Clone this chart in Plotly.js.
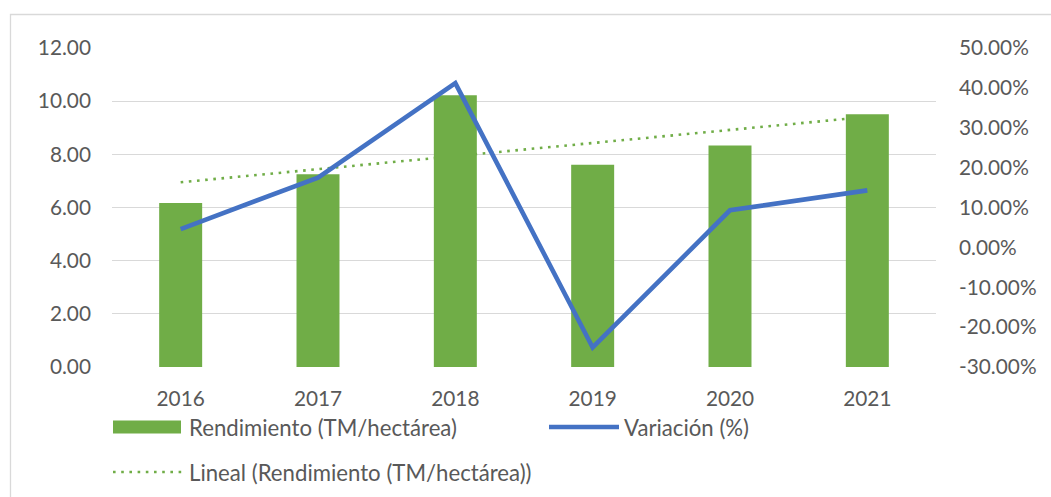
<!DOCTYPE html>
<html>
<head>
<meta charset="utf-8">
<script src="https://cdn.plot.ly/plotly-3.0.1.min.js"></script>
<style>
html,body{margin:0;padding:0;background:#fff;}
#chart{width:1051px;height:497px;}
</style>
</head>
<body>
<div id="chart"></div>
<script>
// ---- data ----
var years = ['2016', '2017', '2018', '2019', '2020', '2021'];
var rendimiento = [6.17, 7.25, 10.22, 7.61, 8.33, 9.51];      // TM/hectárea
var variacion = [4.6, 17.5, 41.2, -25.1, 9.3, 14.3];          // %
var trendYears = ['2016', '2021'];
var trendValues = [6.95, 9.41];                                 // linear trend endpoints
var leftTicks = [0, 2, 4, 6, 8, 10, 12];
var leftTickText = ['0.00', '2.00', '4.00', '6.00', '8.00', '10.00', '12.00'];
var rightTicks = [-30, -20, -10, 0, 10, 20, 30, 40, 50];
var rightTickText = ['-30.00%', '-20.00%', '-10.00%', '0.00%', '10.00%', '20.00%', '30.00%', '40.00%', '50.00%'];
var legendLabels = ['Rendimiento (TM/hectárea)', 'Variación (%)', 'Lineal (Rendimiento (TM/hectárea))'];

// ---- layout geometry ----
var W = 1051, H = 497;
var M = {l: 112, r: 115, t: 48, b: 130};
var PW = W - M.l - M.r, PH = H - M.t - M.b;
function px2x(px) { return (px - M.l) / PW; }
function py2y(py) { return (M.t + PH - py) / PH; }

var green = '#70AD47', blue = '#4472C4', txt = '#595959', grid = '#D9D9D9';
var fontFam = 'Lato, "Open Sans", sans-serif';

var traces = [
  {
    type: 'scatter', mode: 'lines', x: trendYears, y: trendValues,
    xaxis: 'x', yaxis: 'y',
    line: {color: green, width: 2.6, dash: '2.6px,5.6px'},
    name: legendLabels[2], showlegend: false, hoverinfo: 'skip'
  },
  {
    type: 'bar', x: years, y: rendimiento, xaxis: 'x', yaxis: 'y2',
    marker: {color: green, line: {width: 0}},
    name: legendLabels[0], showlegend: false
  },
  {
    type: 'scatter', mode: 'lines', x: years, y: variacion, xaxis: 'x', yaxis: 'y3',
    line: {color: blue, width: 4.6},
    name: legendLabels[1], showlegend: false
  }
];

var shapes = [
  // outer chart border (left and top visible)
  {type: 'rect', xref: 'paper', yref: 'paper',
   x0: px2x(10.5), x1: px2x(1070), y0: py2y(14.5), y1: py2y(520),
   line: {color: grid, width: 1.3}, fillcolor: 'rgba(0,0,0,0)', layer: 'below'},
  // legend symbols
  {type: 'rect', xref: 'paper', yref: 'paper',
   x0: px2x(113), x1: px2x(181), y0: py2y(420.5), y1: py2y(433.5),
   line: {width: 0}, fillcolor: green},
  {type: 'line', xref: 'paper', yref: 'paper',
   x0: px2x(549), x1: px2x(619), y0: py2y(427), y1: py2y(427),
   line: {color: blue, width: 4.6}},
  {type: 'line', xref: 'paper', yref: 'paper',
   x0: px2x(113), x1: px2x(183), y0: py2y(472), y1: py2y(472),
   line: {color: green, width: 2.6, dash: '2.6px,5.6px'}}
];

var annotations = [
  {text: legendLabels[0], x: px2x(187), y: py2y(427)},
  {text: legendLabels[1], x: px2x(622), y: py2y(427)},
  {text: legendLabels[2], x: px2x(187), y: py2y(472)}
].map(function (a) {
  return Object.assign(a, {xref: 'paper', yref: 'paper', xanchor: 'left', yanchor: 'middle',
    showarrow: false, font: {family: fontFam, size: 22.2, color: txt}});
});

var tickFont = {family: fontFam, size: 20.8, color: txt};

var layout = {
  width: W, height: H,
  margin: M,
  paper_bgcolor: '#fff', plot_bgcolor: '#fff',
  font: {family: fontFam, size: 20.8, color: txt},
  showlegend: false,
  bargap: 0.687,
  xaxis: {
    type: 'category', categoryorder: 'array', categoryarray: years,
    showgrid: false, zeroline: false, showline: false, ticks: '',
    tickfont: tickFont, ticklabelstandoff: 17, fixedrange: true
  },
  yaxis: {
    range: [0, 12], tickmode: 'array', tickvals: leftTicks, ticktext: leftTickText,
    showgrid: true, gridcolor: grid, gridwidth: 1.3,
    zeroline: false, showline: false, ticks: '',
    tickfont: tickFont, ticklabelstandoff: 20, fixedrange: true
  },
  yaxis2: {
    range: [0, 12], overlaying: 'y', visible: false, showgrid: false, zeroline: false
  },
  yaxis3: {
    range: [-30, 50], overlaying: 'y', side: 'right',
    tickmode: 'array', tickvals: rightTicks, ticktext: rightTickText,
    showgrid: false, zeroline: false, showline: false, ticks: '',
    tickfont: tickFont, ticklabelstandoff: 22, fixedrange: true
  },
  shapes: shapes,
  annotations: annotations
};

Plotly.newPlot('chart', traces, layout, {displayModeBar: false, staticPlot: true});
</script>
</body>
</html>
